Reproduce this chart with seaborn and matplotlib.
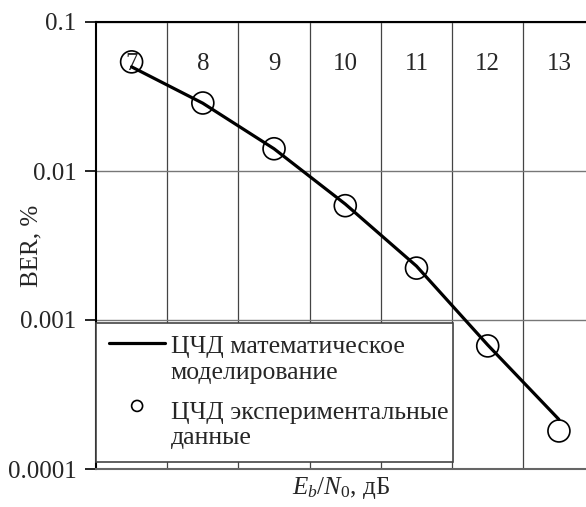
import matplotlib
matplotlib.use("Agg")
import matplotlib.pyplot as plt
import seaborn as sns
import pandas as pd
from matplotlib.ticker import FixedLocator, NullFormatter
from matplotlib.legend_handler import HandlerLine2D

snr_db = [7, 8, 9, 10, 11, 12, 13]
ber_model = [0.050, 0.0285, 0.0141, 0.0060, 0.0023, 0.00068, 0.000215]
ber_exp = [0.054, 0.0286, 0.0141, 0.00585, 0.00223, 0.00067, 0.00018]
y_ticks = [0.0001, 0.001, 0.01, 0.1]
y_tick_labels = ["0.0001", "0.001", "0.01", "0.1"]
x_tick_labels = ["7", "8", "9", "10", "11", "12", "13"]
label_model = "ЦЧД математическое\nмоделирование"
label_exp = "ЦЧД экспериментальные\nданные"

sns.set_theme(style="white")
plt.rcParams["font.family"] = ["Liberation Serif", "DejaVu Serif"]
plt.rcParams["mathtext.fontset"] = "custom"
plt.rcParams["mathtext.rm"] = "Liberation Serif"
plt.rcParams["mathtext.it"] = "Liberation Serif:italic"


class HandlerLineUp(HandlerLine2D):
    def __init__(self, shift, **kw):
        super().__init__(**kw)
        self.shift = shift

    def create_artists(self, legend, orig_handle, xdescent, ydescent,
                       width, height, fontsize, trans):
        return super().create_artists(legend, orig_handle, xdescent,
                                      ydescent - 2 * self.shift, width,
                                      height, fontsize, trans)


df_model = pd.DataFrame({"x": snr_db, "y": ber_model})
df_exp = pd.DataFrame({"x": snr_db, "y": ber_exp})

fig = plt.figure(figsize=(5.86, 5.07), dpi=100)
ax = fig.add_axes([96 / 586, 1 - 469 / 507, 1 - 96 / 586, (469 - 22) / 507])

sns.lineplot(data=df_model, x="x", y="y", ax=ax, color="black", linewidth=2.3,
             label=label_model, zorder=3)
sns.scatterplot(data=df_exp, x="x", y="y", ax=ax, marker="o", s=250,
                facecolors="none", edgecolor="black", linewidth=1.2,
                label=label_exp, zorder=4)

ax.set_yscale("log")
ax.set_ylim(0.0001, 0.1)
ax.set_xlim(6.5, 13.38)

ax.yaxis.set_major_locator(FixedLocator(y_ticks))
ax.set_yticklabels(y_tick_labels)
ax.yaxis.set_minor_formatter(NullFormatter())
ax.yaxis.set_minor_locator(FixedLocator([]))
ax.tick_params(axis="y", which="major", direction="out", length=8, width=1.2,
               color="black", labelsize=18, pad=6, left=True)

ax.xaxis.tick_top()
ax.set_xticks(snr_db)
ax.set_xticklabels(x_tick_labels)
ax.xaxis.set_minor_locator(FixedLocator([7.5, 8.5, 9.5, 10.5, 11.5, 12.5]))
ax.tick_params(axis="x", which="both", length=0, labelsize=18, pad=-38)

ax.grid(False)
ax.grid(True, axis="x", which="minor", color="#444444", linewidth=0.9)
ax.grid(True, axis="y", which="major", color="#777777", linewidth=1)

for side in ["left", "top"]:
    ax.spines[side].set_visible(True)
    ax.spines[side].set_color("black")
    ax.spines[side].set_linewidth(1.5)
ax.spines["bottom"].set_color("#666666")
ax.spines["bottom"].set_linewidth(1.5)
ax.spines["right"].set_visible(False)

ax.set_ylabel("BER, %", fontsize=18)
ax.yaxis.set_label_coords(-0.11, 0.5)
ax.set_xlabel(r"$E_b/N_0$, дБ", fontsize=18, labelpad=4)
ax.xaxis.set_label_position("bottom")

handles, labels = ax.get_legend_handles_labels()
line_handle = [h for h, l in zip(handles, labels) if l == label_model][0]
leg = ax.legend(loc="lower left", bbox_to_anchor=(0.0, 0.016, 0.729, 0.33),
                mode="expand", fontsize=18.5, frameon=True, fancybox=False,
                framealpha=1, edgecolor="#444444", borderaxespad=0,
                handlelength=2.2, handletextpad=0.2, labelspacing=0.7,
                borderpad=0.5, markerscale=0.5, scatteryoffsets=[1.55],
                handler_map={line_handle: HandlerLineUp(shift=12)})
leg.get_frame().set_linewidth(1.2)
for t in leg.get_texts():
    t.set_linespacing(1.2)
leg.set_zorder(10)

fig.savefig("out.png", dpi=100)
